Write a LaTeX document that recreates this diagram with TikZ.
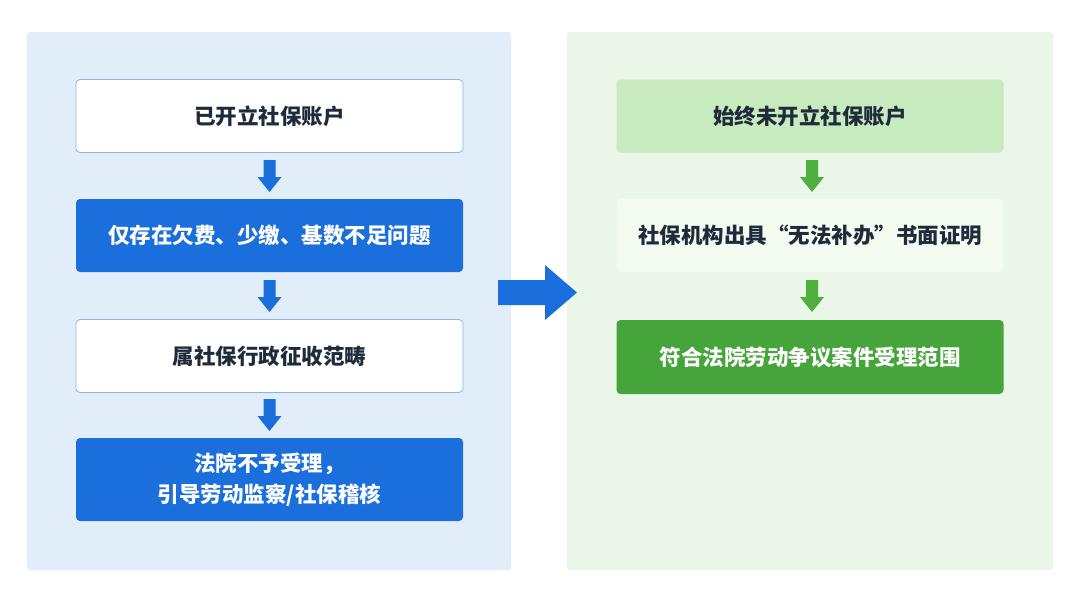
\documentclass[tikz,border=0pt]{standalone}
\usepackage{fontspec}
\setmainfont{Noto Sans CJK SC}
\definecolor{bluebg}{HTML}{E2EDFA}
\definecolor{greenbg}{HTML}{EAF6E7}
\definecolor{blueb}{HTML}{1B6FDC}
\definecolor{blueline}{HTML}{8DB3E6}
\definecolor{greenl}{HTML}{C8EABF}
\definecolor{greenp}{HTML}{F4FBF1}
\definecolor{greend}{HTML}{45A53A}
\definecolor{greenarr}{HTML}{4EAF3F}
\definecolor{txt}{HTML}{1F2A3A}
\newcommand{\dnarrow}[2]{\fill[#1] (#2) ++(-6,0) -- ++(12,0) -- ++(0,17) -- ++(6,0) -- ++(-12,15) -- ++(-12,-15) -- ++(6,0) -- cycle;}
\begin{document}
\begin{tikzpicture}[x=1pt,y=-1pt,
  box/.style={rounded corners=4pt, minimum width=387pt, minimum height=73pt, align=center, font=\fontsize{21.5}{31}\selectfont\bfseries, inner sep=0pt},
  wbox/.style={box, fill=white, draw=blueline, line width=0.8pt, text=txt},
  bbox/.style={box, fill=blueb, text=white}]
\useasboundingbox (0,0) rectangle (1080,606);
\fill[white] (0,0) rectangle (1080,606);
\node[fill=bluebg, rounded corners=3pt, minimum width=484pt, minimum height=538pt, inner sep=0pt] (lp) at (269,301) {};
\node[fill=greenbg, rounded corners=3pt, minimum width=486pt, minimum height=538pt, inner sep=0pt] (rp) at (810,301) {};
\node[wbox] (l1) at (269.5,116) {已开立社保账户};
\node[bbox] (l2) at (269.5,235.5) {仅存在欠费、少缴、基数不足问题};
\node[wbox] (l3) at (269.5,356) {属社保行政征收范畴};
\node[bbox, minimum height=83pt] (l4) at (269.5,479.5) {法院不予受理，\\引导劳动监察/社保稽核};
\node[box, fill=greenl, text=txt] (r1) at (810,116) {始终未开立社保账户};
\node[box, fill=greenp, text=txt] (r2) at (810,235.5) {社保机构出具“无法补办”书面证明};
\node[box, fill=greend, text=white, minimum height=74pt] (r3) at (810,357) {符合法院劳动争议案件受理范围};
\coordinate (a1) at (269.5,160);
\coordinate (a2) at (269.5,280);
\coordinate (a3) at (269.5,399);
\coordinate (a4) at (812,160);
\coordinate (a5) at (812,280);
\dnarrow{blueb}{a1}
\dnarrow{blueb}{a2}
\dnarrow{blueb}{a3}
\dnarrow{greenarr}{a4}
\dnarrow{greenarr}{a5}
\coordinate (big) at (498,280);
\fill[blueb] (big) -- ++(47,0) -- ++(0,-15) -- ++(32,27.5) -- ++(-32,27.5) -- ++(0,-15) -- ++(-47,0) -- cycle;
\end{tikzpicture}
\end{document}
